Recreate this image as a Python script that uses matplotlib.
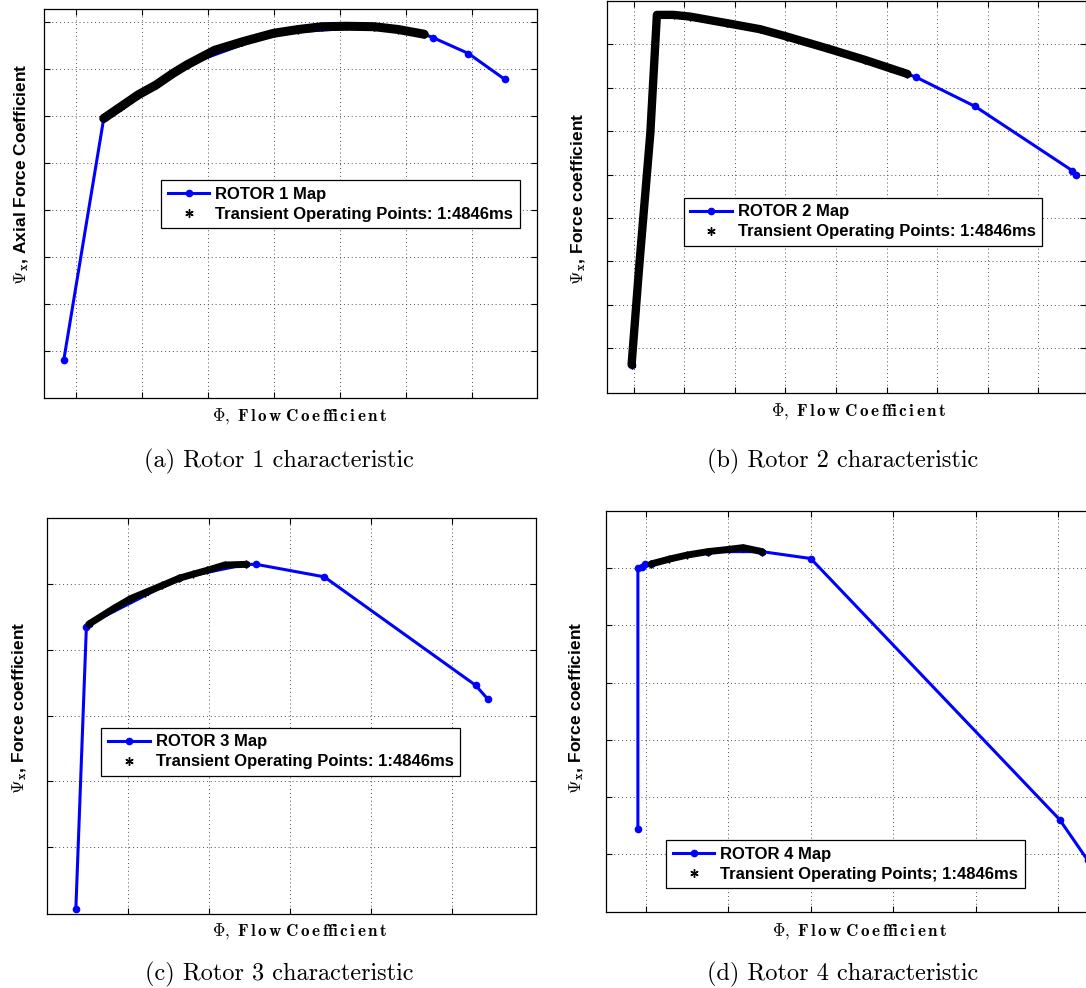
import matplotlib
matplotlib.use("Agg")
import matplotlib.pyplot as plt
from matplotlib.lines import Line2D

# ---------------------------------------------------------------------------
# Rotor characteristic maps (blue) and transient operating points (black).
# Values are in axis grid units (tick labels are not shown on these plots).
# ---------------------------------------------------------------------------
rotor1_map_phi = [-0.185, 0.42, 1.68, 2.99, 4.51, 5.27, 5.40, 5.94, 6.49]
rotor1_map_psi = [-0.19, 4.95, 6.09, 6.76, 6.90, 6.74, 6.67, 6.33, 5.78]
rotor1_trans_phi = [0.42, 0.68, 0.94, 1.21, 1.47, 1.68, 2.10, 2.52, 2.99,
                    3.36, 3.72, 4.09, 4.51, 4.88, 5.27]
rotor1_trans_psi = [4.95, 5.20, 5.45, 5.66, 5.91, 6.09, 6.40, 6.58, 6.76,
                    6.84, 6.90, 6.91, 6.90, 6.84, 6.74]

rotor2_map_phi = [-0.04, 0.46, 1.84, 3.03, 4.58, 5.41, 5.59, 6.75, 8.67, 8.74]
rotor2_map_psi = [-0.38, 7.68, 7.49, 7.18, 6.64, 6.32, 6.24, 5.57, 4.09, 3.98]
rotor2_trans_phi = [-0.04, 0.11, 0.33, 0.46, 0.79, 1.12, 1.84, 2.50, 3.03,
                    3.82, 4.58, 5.07, 5.41]
rotor2_trans_psi = [-0.38, 1.88, 4.95, 7.68, 7.68, 7.64, 7.49, 7.35, 7.18,
                    6.91, 6.64, 6.45, 6.32]

rotor3_map_phi = [-0.65, -0.52, -0.49, 0.63, 1.45, 1.58, 2.42, 4.29, 4.44]
rotor3_map_psi = [-0.95, 3.34, 3.39, 4.09, 4.30, 4.30, 4.11, 2.46, 2.25]
rotor3_trans_phi = [-0.49, -0.18, 0.03, 0.205, 0.42, 0.63, 0.80, 0.975,
                    1.19, 1.45]
rotor3_trans_psi = [3.39, 3.63, 3.78, 3.87, 3.98, 4.09, 4.15, 4.21, 4.29, 4.30]

rotor4_map_phi = [-0.097, -0.097, -0.05, -0.01, 0.064, 0.75, 1.41, 2.00,
                  5.02, 5.36]
rotor4_map_psi = [0.44, 5.00, 5.03, 5.07, 5.075, 5.29, 5.29, 5.17, 0.61, -0.10]
rotor4_trans_phi = [0.064, 0.285, 0.50, 0.75, 1.01, 1.18, 1.41]
rotor4_trans_psi = [5.075, 5.16, 5.23, 5.29, 5.33, 5.36, 5.29]

map_labels = ["ROTOR 1 Map", "ROTOR 2 Map", "ROTOR 3 Map", "ROTOR 4 Map"]
trans_labels = ["Transient Operating Points: 1:4846ms",
                "Transient Operating Points: 1:4846ms",
                "Transient Operating Points: 1:4846ms",
                "Transient Operating Points; 1:4846ms"]
ylabels = ["Axial Force Coefficient", "Force coefficient",
           "Force coefficient", "Force coefficient"]
captions = ["(a) Rotor 1 characteristic", "(b) Rotor 2 characteristic",
            "(c) Rotor 3 characteristic", "(d) Rotor 4 characteristic"]
xlabel_words = ["\u03a6,", "Flow", "Coefficient"]

# ---------------------------------------------------------------------------
plt.rcParams["mathtext.fontset"] = "cm"

W, H = 1086, 988
fig = plt.figure(figsize=(W / 100, H / 100), dpi=100)

BLUE = (0.0, 0.0, 1.0)
ASTERISK = (6, 2, 0)
LEG_FONT = dict(family="Liberation Sans", weight="bold", size=12)
YLAB_FONT = dict(family="Liberation Sans", weight="bold", size=12.5)


def px_box(left, top, right, bottom):
    return [left / W, 1 - bottom / H, (right - left) / W, (bottom - top) / H]


def px(x, y):
    return x / W, 1 - y / H


def spaced_bold(words):
    """Bold Computer Modern label with a little tracking between letters."""
    parts = []
    for w in words:
        if w == "\u03a6,":
            parts.append(r"\Phi,")
        else:
            w = w.replace("ffi", "\x00")
            letters = [c if c != "\x00" else "ffi" for c in w]
            parts.append(r"\,".join(letters))
    return r"$\mathbf{" + r"\ ".join(parts) + "}$"


panels = [
    dict(map=(rotor1_map_phi, rotor1_map_psi),
         trans=(rotor1_trans_phi, rotor1_trans_psi),
         box=(43.6, 9.3, 537.2, 398.3), xlim=(-0.49, 6.98), ylim=(-1.0, 7.27),
         nx=7, ny=8, leg=(161, 180), ylab=(21.5, 174), xlab=(300, 416.5),
         cap=(279, 461), band=6.5),
    dict(map=(rotor2_map_phi, rotor2_map_psi),
         trans=(rotor2_trans_phi, rotor2_trans_psi),
         box=(606.8, 1.0, 1085.5, 393.3), xlim=(-0.53, 8.93), ylim=(-1.04, 8.0),
         nx=9, ny=8, leg=(683.5, 197.7), ylab=(578.5, 198.5), xlab=(859, 412),
         cap=(843, 461), band=6.0),
    dict(map=(rotor3_map_phi, rotor3_map_psi),
         trans=(rotor3_trans_phi, rotor3_trans_psi),
         box=(46.7, 517.7, 535.5, 914.0), xlim=(-1.01, 5.03), ylim=(-1.02, 5.01),
         nx=5, ny=5, leg=(101.4, 727.7), ylab=(19.5, 707.5), xlab=(299.4, 931.5),
         cap=(279, 974), band=5.0),
    dict(map=(rotor4_map_phi, rotor4_map_psi),
         trans=(rotor4_trans_phi, rotor4_trans_psi),
         box=(605.5, 511.0, 1100.0, 912.3), xlim=(-0.49, 5.51), ylim=(-1.01, 6.0),
         nx=6, ny=6, leg=(666, 840), ylab=(577, 708), xlab=(860, 931.5),
         cap=(843, 974), band=5.0),
]

for i, p in enumerate(panels):
    ax = fig.add_axes(px_box(*p["box"]))
    ax.set_xlim(*p["xlim"])
    ax.set_ylim(*p["ylim"])
    ax.set_xticks(range(p["nx"]))
    ax.set_yticks(range(p["ny"]))
    ax.tick_params(direction="in", length=4, width=0.8, top=True, right=True,
                   labelbottom=False, labelleft=False)
    ax.set_axisbelow(True)
    ax.grid(True, linestyle=(0, (1, 3)), linewidth=0.7, color="0.3")
    for s in ax.spines.values():
        s.set_linewidth(0.9)
        s.set_color("k")

    mphi, mpsi = p["map"]
    tphi, tpsi = p["trans"]
    ax.plot(mphi, mpsi, "-o", color=BLUE, lw=2.2, ms=4.5, zorder=2)
    ax.plot(tphi, tpsi, "-", color="k", lw=p["band"], solid_capstyle="round",
            solid_joinstyle="round", zorder=3)
    ax.plot(tphi, tpsi, ls="none", marker=ASTERISK, color="k", ms=5.5,
            mew=1.0, zorder=3)

    handles = [Line2D([], [], color=BLUE, lw=2.2, marker="o", ms=4.5),
               Line2D([], [], color="k", ls="none", marker=ASTERISK, ms=6,
                      mew=1.0)]
    leg = ax.legend(handles, [map_labels[i], trans_labels[i]],
                    loc="upper left", bbox_to_anchor=px(*p["leg"]),
                    bbox_transform=fig.transFigure, borderaxespad=0,
                    fancybox=False, edgecolor="k", framealpha=1,
                    prop=LEG_FONT, handlelength=2.5, handletextpad=0.35,
                    borderpad=0.4, labelspacing=0.3, numpoints=1)
    leg.get_frame().set_linewidth(0.9)
    leg.set_zorder(10)

    fig.text(*px(*p["ylab"]), r"$\Psi_{\mathbf{x}}$, " + ylabels[i],
             rotation=90, ha="center", va="center", **YLAB_FONT)
    fig.text(*px(*p["xlab"]), spaced_bold(xlabel_words), ha="center",
             va="center", size=12.3)
    fig.text(*px(*p["cap"]), captions[i], ha="center", va="center",
             family="cmr10", size=17.5)

fig.savefig("out.png", dpi=100)
